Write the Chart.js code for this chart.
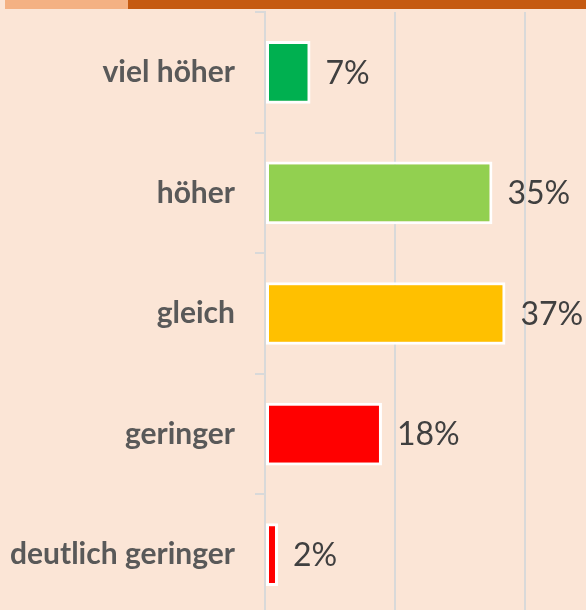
<!DOCTYPE html>
<html>
<head>
<meta charset="utf-8">
<script src="https://cdn.jsdelivr.net/npm/chart.js@4.4.1/dist/chart.umd.min.js"></script>
<style>
    html, body { margin: 0; padding: 0; background: #FBE5D6; overflow: hidden; }
    #wrap { position: relative; width: 586px; height: 615px; }
    .strip { position: absolute; top: 0; height: 9px; }
</style>
</head>
<body>
<div id="wrap">
    <div class="strip" style="left:5px;width:123px;background:#F4B183"></div>
    <div class="strip" style="left:128px;width:458px;background:#C55A11"></div>
    <canvas id="chart" width="586" height="615"></canvas>
</div>
<script>
// Data
const categories = ['viel höher', 'höher', 'gleich', 'geringer', 'deutlich geringer'];
const shares = [7, 35, 37, 18, 2];
const barColors = ['#00B050', '#92D050', '#FFC000', '#FF0000', '#FF0000'];

// Draw "xx%" right of each bar
const valueLabels = {
    id: 'valueLabels',
    afterDatasetsDraw: function(chart) {
        const ctx = chart.ctx;
        const meta = chart.getDatasetMeta(0);
        ctx.save();
        ctx.font = '32px Lato';
        ctx.fillStyle = '#404040';
        ctx.textAlign = 'left';
        ctx.textBaseline = 'middle';
        meta.data.forEach(function(bar, i) {
            ctx.fillText(shares[i] + '%', bar.x + 15, bar.y + 1);
        });
        ctx.restore();
    }
};

new Chart(document.getElementById('chart'), {
    type: 'bar',
    data: {
        labels: categories,
        datasets: [{
            data: shares,
            backgroundColor: barColors,
            borderColor: '#FFFFFF',
            borderWidth: 3,
            borderSkipped: false,
            barPercentage: 0.52,
            categoryPercentage: 1
        }]
    },
    options: {
        indexAxis: 'y',
        responsive: false,
        animation: false,
        layout: { padding: { top: 12, left: 0, right: 0, bottom: 0 } },
        plugins: {
            legend: { display: false },
            tooltip: { enabled: false }
        },
        scales: {
            x: {
                min: 0,
                max: 49.4,
                afterBuildTicks: function(scale) {
                    scale.ticks = scale.ticks.filter(function(t) { return t.value % 20 === 0; });
                },
                afterFit: function(scale) {
                    scale.height = 0;
                    scale.paddingLeft = 0;
                    scale.paddingRight = 0;
                },
                ticks: { display: false, stepSize: 20 },
                grid: { color: '#D9D9D9', lineWidth: 2, drawTicks: false },
                border: { display: false }
            },
            y: {
                afterFit: function(scale) {
                    scale.width = 265;
                    scale.paddingTop = 0;
                    scale.paddingBottom = 0;
                },
                ticks: {
                    color: '#595959',
                    font: { family: 'Lato', size: 30, weight: 'bold' },
                    padding: 20
                },
                grid: { display: true, drawOnChartArea: false, tickLength: 10, color: '#D9D9D9', lineWidth: 2 },
                border: { color: '#D9D9D9', width: 2 }
            }
        }
    },
    plugins: [valueLabels]
});
</script>
</body>
</html>
